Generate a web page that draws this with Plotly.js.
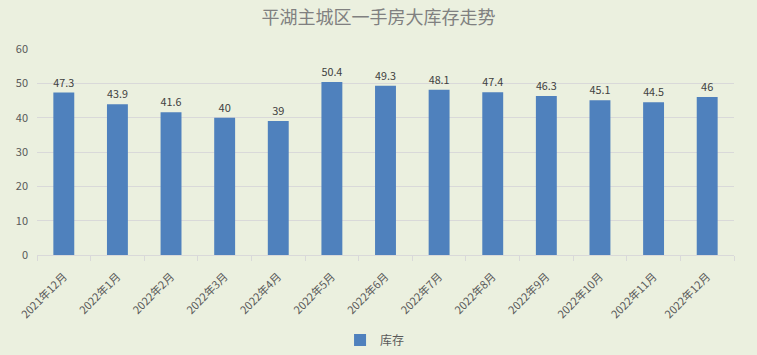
<!DOCTYPE html>
<html><head><meta charset="utf-8">
<script src="https://cdn.plot.ly/plotly-3.0.1.min.js"></script>
<style>body{margin:0;background:#EBF0DF;}</style>
</head><body>
<div id="chart" style="width:757px;height:355px;"></div>
<script>
const categories = ["2021年12月","2022年1月","2022年2月","2022年3月","2022年4月","2022年5月","2022年6月","2022年7月","2022年8月","2022年9月","2022年10月","2022年11月","2022年12月"];
const inventory = [47.3,43.9,41.6,40,39,50.4,49.3,48.1,47.4,46.3,45.1,44.5,46];
const seriesName = "库存";
const font = '"Noto Sans CJK SC", "Noto Sans", sans-serif';
Plotly.newPlot('chart', [{
  type: 'bar', x: categories, y: inventory, name: seriesName,
  marker: {color: '#4F81BD'},
  text: inventory.map(String), textposition: 'outside', cliponaxis: false,
  textfont: {family: font, size: 11, color: '#404040'}
}], {
  width: 757, height: 355,
  paper_bgcolor: '#EBF0DF', plot_bgcolor: '#EBF0DF',
  margin: {l: 37, r: 23, t: 49, b: 100},
  title: {text: '平湖主城区一手房大库存走势', x: 0.5, xanchor: 'center', y: 0.95, yanchor: 'middle',
    font: {family: font, size: 18, color: '#808080'}},
  bargap: 0.61,
  showlegend: true,
  legend: {orientation: 'h', x: 0.485, xanchor: 'center', yref: 'container', y: 0.042, yanchor: 'middle',
    itemwidth: 30,
    font: {family: font, size: 12, color: '#595959'}},
  xaxis: {type: 'category', tickangle: -45, tickfont: {family: font, size: 11, color: '#595959'},
    ticklabelstandoff: 10, automargin: false,
    showline: true, linecolor: '#D9D9D9', ticks: 'outside', tickson: 'boundaries', ticklen: 5, tickcolor: '#D9D9D9',
    showgrid: false},
  yaxis: {range: [0, 60], dtick: 10, tickfont: {family: font, size: 11, color: '#595959'},
    ticklabelstandoff: 8, automargin: false,
    gridcolor: '#D9D9D9', zeroline: false, showline: false, ticks: '', ticklen: 0}
}, {displayModeBar: false});
</script>
</body></html>
